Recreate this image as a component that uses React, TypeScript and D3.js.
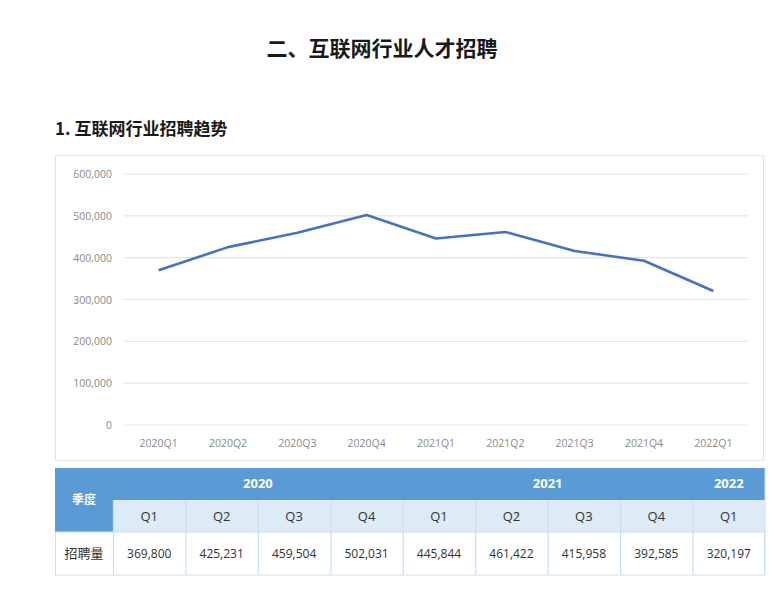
import { useEffect, useRef } from "react";
import * as d3 from "d3";

const categories = ["2020Q1", "2020Q2", "2020Q3", "2020Q4", "2021Q1", "2021Q2", "2021Q3", "2021Q4", "2022Q1"];
const values = [369800, 425231, 459504, 502031, 445844, 461422, 415958, 392585, 320197];
const yTicks = [0, 100000, 200000, 300000, 400000, 500000, 600000];
const yearLabels = ["2020", "2021", "2022"];
const yearSpans = [4, 4, 1];

const W = 778,
  H = 594;
const font = "'Open Sans', 'Noto Sans', sans-serif";
const cjk = "'Noto Sans CJK SC', sans-serif";

function App() {
  const svgRef = useRef(null);

  const buildSVG = () => {
    const svg = d3.select(svgRef.current).attr("width", W).attr("height", H);
    svg.selectAll("*").remove();

    svg.append("rect").attr("width", W).attr("height", H).attr("fill", "#fff");

    // titles
    svg
      .append("text")
      .attr("x", 382)
      .attr("y", 56)
      .attr("text-anchor", "middle")
      .style("font-family", cjk)
      .style("font-weight", 700)
      .style("font-size", "21px")
      .attr("fill", "#1a1a1a")
      .text("二、互联网行业人才招聘");

    svg
      .append("text")
      .attr("x", 55)
      .attr("y", 135)
      .style("font-family", cjk)
      .style("font-weight", 700)
      .style("font-size", "17px")
      .attr("fill", "#1a1a1a")
      .text("1. 互联网行业招聘趋势");

    // chart frame
    svg
      .append("rect")
      .attr("x", 55.5)
      .attr("y", 155.5)
      .attr("width", 708)
      .attr("height", 305)
      .attr("fill", "#fff")
      .attr("stroke", "#e3e3e3");

    const x = d3.scaleBand().domain(categories).range([124, 748]).padding(0);
    const y = d3.scaleLinear().domain([0, 600000]).range([425, 174]);

    const grid = svg.append("g");
    grid
      .selectAll("line")
      .data(yTicks)
      .enter()
      .append("line")
      .attr("x1", 124)
      .attr("x2", 748)
      .attr("y1", (d) => y(d))
      .attr("y2", (d) => y(d))
      .attr("stroke", "#e5e5e5")
      .attr("stroke-width", 1.2);

    const fmt = d3.format(",");
    svg
      .append("g")
      .selectAll("text")
      .data(yTicks)
      .enter()
      .append("text")
      .attr("x", 112)
      .attr("y", (d) => y(d) + 4)
      .attr("text-anchor", "end")
      .style("font-family", font)
      .style("font-size", "10.5px")
      .attr("fill", "#8a8a8a")
      .text((d) => fmt(d));

    svg
      .append("g")
      .selectAll("text")
      .data(categories)
      .enter()
      .append("text")
      .attr("x", (d) => (x(d) as number) + x.bandwidth() / 2)
      .attr("y", 447)
      .attr("text-anchor", "middle")
      .style("font-family", font)
      .style("font-size", "10.5px")
      .attr("fill", "#8a8a8a")
      .text((d) => d);

    const line = d3
      .line<number>()
      .x((d, i) => (x(categories[i]) as number) + x.bandwidth() / 2)
      .y((d) => y(d));

    svg
      .append("path")
      .datum(values)
      .attr("d", line)
      .attr("fill", "none")
      .attr("stroke", "#4472c4")
      .attr("stroke-width", 2.6)
      .attr("stroke-linejoin", "round");

    // table
    const tx = d3.scaleBand().domain(categories).range([113, 765]);
    const r0 = 468,
      r1 = 500,
      r2 = 532,
      r3 = 575;
    const tbl = svg.append("g");
    const headBlue = "#5b9bd5";
    const lightBlue = "#ddebf7";
    const border = "#c9dff2";

    // year row + corner cell
    tbl
      .append("rect")
      .attr("x", 55)
      .attr("y", r0)
      .attr("width", 710)
      .attr("height", r1 - r0)
      .attr("fill", headBlue);
    tbl
      .append("rect")
      .attr("x", 55)
      .attr("y", r0)
      .attr("width", 58)
      .attr("height", r2 - r0)
      .attr("fill", headBlue);
    tbl
      .append("text")
      .attr("x", 84)
      .attr("y", r1 + 4)
      .attr("text-anchor", "middle")
      .style("font-family", cjk)
      .style("font-weight", 700)
      .style("font-size", "12px")
      .attr("fill", "#fff")
      .text("季度");

    let start = 0;
    yearLabels.forEach((yl, i) => {
      const x0 = tx(categories[start]) as number;
      const x1 = (tx(categories[start + yearSpans[i] - 1]) as number) + tx.bandwidth();
      tbl
        .append("text")
        .attr("x", (x0 + x1) / 2)
        .attr("y", r0 + 20)
        .attr("text-anchor", "middle")
        .style("font-family", font)
        .style("font-weight", 700)
        .style("font-size", "13px")
        .attr("fill", "#fff")
        .text(yl);
      start += yearSpans[i];
    });

    // quarter row
    tbl
      .append("rect")
      .attr("x", 113)
      .attr("y", r1)
      .attr("width", 652)
      .attr("height", r2 - r1)
      .attr("fill", lightBlue);
    tbl
      .append("rect")
      .attr("x", 55.5)
      .attr("y", r2)
      .attr("width", 709)
      .attr("height", r3 - r2)
      .attr("fill", "#fff")
      .attr("stroke", border);

    tbl
      .selectAll(".vsep")
      .data(categories)
      .enter()
      .append("line")
      .attr("x1", (d) => (tx(d) as number) + 0.5)
      .attr("x2", (d) => (tx(d) as number) + 0.5)
      .attr("y1", r1)
      .attr("y2", r3)
      .attr("stroke", border)
      .attr("stroke-width", 1.2);

    tbl
      .append("line")
      .attr("x1", 765)
      .attr("x2", 765)
      .attr("y1", r0)
      .attr("y2", r3)
      .attr("stroke", border);

    tbl
      .selectAll(".q")
      .data(categories)
      .enter()
      .append("text")
      .attr("x", (d) => (tx(d) as number) + tx.bandwidth() / 2)
      .attr("y", r1 + 21)
      .attr("text-anchor", "middle")
      .style("font-family", font)
      .style("font-size", "13px")
      .attr("fill", "#333")
      .text((d) => d.slice(4));

    tbl
      .append("text")
      .attr("x", 84)
      .attr("y", r2 + 26)
      .attr("text-anchor", "middle")
      .style("font-family", cjk)
      .style("font-size", "13px")
      .attr("fill", "#333")
      .text("招聘量");

    tbl
      .selectAll(".v")
      .data(values)
      .enter()
      .append("text")
      .attr("x", (d, i) => (tx(categories[i]) as number) + tx.bandwidth() / 2)
      .attr("y", r2 + 26)
      .attr("text-anchor", "middle")
      .style("font-family", font)
      .style("font-size", "12px")
      .attr("fill", "#333")
      .text((d) => fmt(d));
  };

  useEffect(buildSVG, []);

  return (
    <div style={{ position: "absolute", left: 0, top: 0 }}>
      <svg ref={svgRef} style={{ display: "block" }}></svg>
    </div>
  );
}

export default App;
